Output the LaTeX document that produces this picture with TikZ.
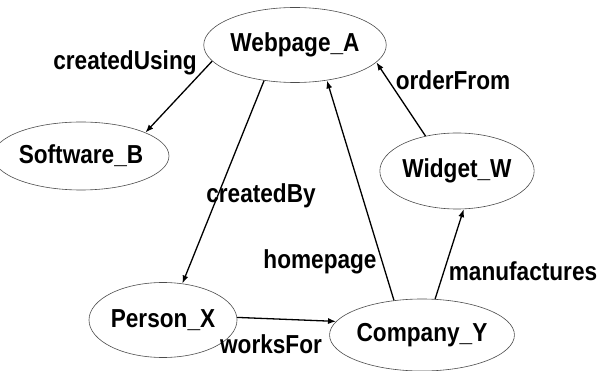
\documentclass[tikz,border=0pt]{standalone}
\usepackage{fontspec}
\setmainfont[FakeStretch=0.87]{Liberation Sans}
\usepackage{tikz}
\usetikzlibrary{shapes.geometric,arrows.meta}

\begin{document}
\begin{tikzpicture}[x=1pt,y=-1pt,
  font=\fontsize{26}{30}\selectfont\bfseries,
  res/.style={ellipse,draw=black!70,line width=0.6pt,inner sep=0pt,minimum width=148pt,minimum height=75pt},
  rel/.style={line width=1.3pt,-{Latex[length=8pt,width=6pt]}}]
% Frame
\useasboundingbox (0,0) rectangle (602,371);

% Resources
\node[res] (wa) at (295,45) {Webpage\_A};
\node[res,minimum width=142pt,minimum height=68pt] (sb) at (81,156) {Software\_B};
\node[res,minimum height=76pt] (ww) at (457,171) {Widget\_W};
\node[res] (px) at (163,320) {Person\_X};
\node[res,minimum width=155pt,minimum height=72pt] (cy) at (422,335) {Company\_Y};

% Properties
\draw[rel] (wa.191) -- (sb.20);
\draw[rel] (wa.229) -- (px.62);
\draw[rel] (cy.129) -- (wa.312);
\draw[rel] (ww.132) -- (wa.348);
\draw[rel] (cy.70) -- (ww.280);
\draw[rel] (px.2) -- (cy.171);

% Labels
\node at (125,63) {createdUsing};
\node at (453,80) {orderFrom};
\node at (261,196) {createdBy};
\node at (320,262) {homepage};
\node at (523,271) {manufactures};
\node at (271,344) {worksFor};
\end{tikzpicture}
\end{document}
